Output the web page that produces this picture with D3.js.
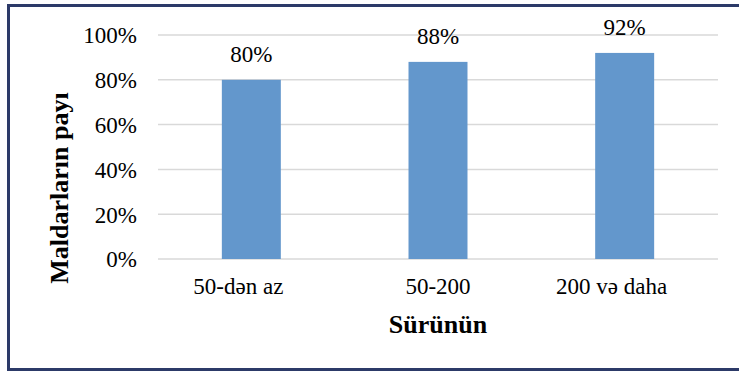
<!DOCTYPE html>
<html>
<head>
<meta charset="utf-8">
<script src="https://cdn.jsdelivr.net/npm/d3@7"></script>
<style>
html, body { margin: 0; padding: 0; background: #fff; }
svg { display: block; }
text { font-family: "Liberation Serif", "Times New Roman", serif; fill: #000; }
</style>
</head>
<body>
<svg id="chart" width="739" height="372"></svg>
<script>
const categories = ["50-dən az", "50-200", "200 və daha"];
const values = [0.80, 0.88, 0.92];
const yTicks = [0, 0.2, 0.4, 0.6, 0.8, 1.0];
const xTitle = "Sürünün";
const yTitle = "Maldarların payı";

const svg = d3.select("#chart");
const plotLeft = 158, plotRight = 718, plotTop = 35, plotBottom = 259;

svg.append("rect")
  .attr("x", 8.5).attr("y", 5.5)
  .attr("width", 745).attr("height", 364)
  .attr("fill", "#fff")
  .attr("stroke", "#2c3a68").attr("stroke-width", 3);

const x = d3.scaleBand().domain(categories).range([plotLeft, plotRight])
  .paddingInner(0.684).paddingOuter(0.342);
const y = d3.scaleLinear().domain([0, 1]).range([plotBottom, plotTop]);

// gridlines
svg.append("g").selectAll("line").data(yTicks).join("line")
  .attr("x1", plotLeft).attr("x2", plotRight)
  .attr("y1", d => y(d)).attr("y2", d => y(d))
  .attr("stroke", "#d9d9d9").attr("stroke-width", 1.5);

// y axis labels
const yAxis = d3.axisLeft(y).tickValues(yTicks).tickFormat(d3.format(".0%")).tickSize(0).tickPadding(0);
const gy = svg.append("g").attr("transform", `translate(${plotLeft - 21},0)`).call(yAxis);
gy.select(".domain").remove();
gy.selectAll("text").attr("font-size", 23).attr("font-family", "Liberation Serif").attr("fill", "#000").attr("dy", "0.34em");

// bars
svg.append("g").selectAll("rect").data(values).join("rect")
  .attr("x", (d, i) => x(categories[i]))
  .attr("width", x.bandwidth())
  .attr("y", d => y(d))
  .attr("height", d => y(0) - y(d))
  .attr("fill", "#6397cc");

// value labels
svg.append("g").selectAll("text").data(values).join("text")
  .attr("x", (d, i) => x(categories[i]) + x.bandwidth() / 2)
  .attr("y", d => y(d) - 18)
  .attr("text-anchor", "middle")
  .attr("font-size", 23)
  .text(d => d3.format(".0%")(d));

// x axis labels
const xAxis = d3.axisBottom(x).tickSize(0).tickPadding(0);
const gx = svg.append("g").attr("transform", `translate(0,${plotBottom})`).call(xAxis);
gx.select(".domain").remove();
gx.selectAll("text").attr("font-size", 23).attr("font-family", "Liberation Serif").attr("fill", "#000")
  .attr("dy", 0).attr("y", 35)
  .attr("dx", d => (d.indexOf("ə") >= 0 ? -13 : 0));

// axis titles
svg.append("text")
  .attr("x", (plotLeft + plotRight) / 2).attr("y", 333)
  .attr("text-anchor", "middle")
  .attr("font-size", 26).attr("font-weight", "bold")
  .text(xTitle);

svg.append("text")
  .attr("transform", `translate(68,${188}) rotate(-90)`)
  .attr("text-anchor", "middle")
  .attr("font-size", 26).attr("font-weight", "bold")
  .text(yTitle);
</script>
</body>
</html>
